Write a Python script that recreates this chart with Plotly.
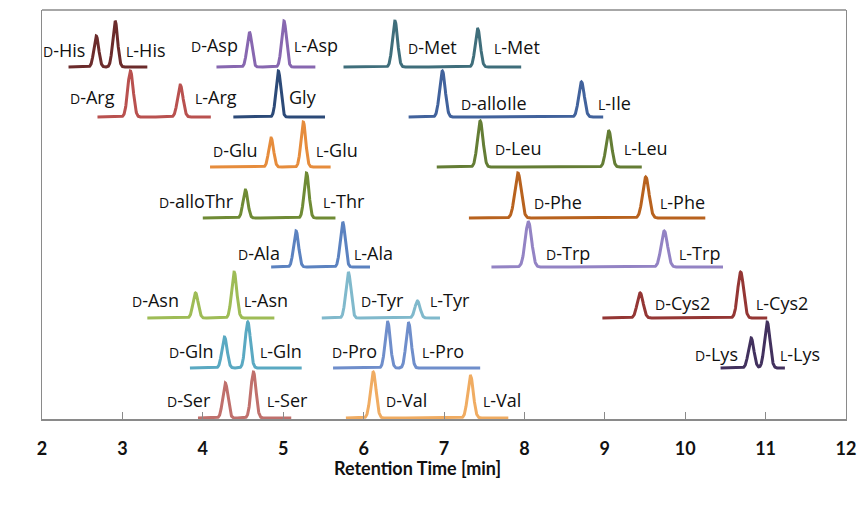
import numpy as np
import plotly.graph_objects as go

# ---- data -------------------------------------------------------------
names = ["His", "Asp", "Met", "Arg", "Gly", "alloIle/Ile", "Glu", "Leu", "Thr", "Phe",
         "Ala", "Trp", "Asn", "Tyr", "Cys2", "Gln", "Pro", "Lys", "Ser", "Val"]
offsets = [352, 352, 352, 302, 302, 302, 252, 252, 201, 201,
           152, 152, 101, 101, 101, 51, 51, 51, 1, 1]
rt_first = [2.675, 4.58, 6.39, 3.10, 4.94, 6.98, 4.85, 7.45, 4.53, 7.92,
            5.16, 8.05, 3.91, 5.81, 9.44, 4.27, 6.30, 10.82, 4.28, 6.12]
rt_second = [2.91, 5.01, 7.42, 3.72, None, 8.71, 5.25, 9.05, 5.29, 9.51,
             5.74, 9.74, 4.39, 6.67, 10.69, 4.56, 6.56, 11.02, 4.63, 7.33]
h_first = [31, 35, 46, 46, 46, 46, 29, 46, 28, 45,
           36, 45, 25, 46, 25, 31, 46, 30, 35, 46]
h_second = [46, 46, 38, 32, None, 35, 45, 36, 45, 41,
            45, 36, 46, 17, 46, 46, 45, 46, 46, 42]
run_start = [2.33, 4.17, 5.75, 2.69, 4.38, 6.56, 4.09, 6.91, 4.00, 7.31,
             4.85, 7.59, 3.31, 5.48, 8.97, 3.84, 5.62, 10.44, 3.94, 5.78]
run_end = [3.31, 5.40, 7.96, 4.10, 5.52, 8.98, 5.59, 9.46, 5.65, 10.25,
           6.08, 10.47, 4.89, 6.95, 11.02, 5.23, 7.45, 11.24, 5.10, 7.80]
peak_sigma = [0.030, 0.030, 0.032, 0.034, 0.030, 0.035, 0.030, 0.035, 0.030, 0.040,
              0.031, 0.040, 0.032, 0.032, 0.037, 0.032, 0.032, 0.034, 0.032, 0.035]

label_prefix = ["D", "L", "D", "L", "D", "L", "D", "L", "", "D", "L",
                "D", "L", "D", "L", "D", "L", "D", "L", "D", "L", "D", "L",
                "D", "L", "D", "L", "D", "L", "D", "L", "D", "L", "D", "L",
                "D", "L", "D", "L"]
label_text = ["His", "His", "Asp", "Asp", "Met", "Met", "Arg", "Arg", "Gly", "alloIle", "Ile",
              "Glu", "Glu", "Leu", "Leu", "alloThr", "Thr", "Phe", "Phe", "Ala", "Ala",
              "Trp", "Trp", "Asn", "Asn", "Tyr", "Tyr", "Cys2", "Cys2", "Gln", "Gln",
              "Pro", "Pro", "Lys", "Lys", "Ser", "Ser", "Val", "Val"]

# label placement (layout, not data)
label_x = [2.568, 3.012, 4.481, 5.099, 6.519, 7.58, 2.951, 3.864, 5.037, 7.173, 8.877,
           4.728, 5.37, 7.593, 9.198, 4.42, 5.457, 8.086, 9.654, 5.0, 5.84,
           8.235, 9.889, 3.741, 4.481, 5.926, 6.79, 9.593, 10.84, 4.173, 4.679,
           6.21, 6.691, 10.691, 11.136, 4.136, 4.765, 6.247, 7.444]
label_y = [369, 369, 374, 374, 372, 372, 322, 322, 322, 316, 316,
           269, 269, 271, 271, 218, 218, 217, 217, 166, 166,
           166, 166, 119, 119, 119, 119, 116, 116, 68, 68,
           68, 68, 65, 65, 19, 19, 19, 19]
label_anchor = ["right", "left", "right", "left", "left", "left", "right", "left", "left", "left", "left",
                "right", "left", "left", "left", "right", "left", "left", "left", "right", "left",
                "left", "left", "right", "left", "left", "left", "left", "left", "right", "left",
                "right", "left", "right", "left", "right", "left", "left", "left"]

colors = ["#6b2b2b", "#8767b0", "#3f6e7b", "#b9514f", "#2c4a78", "#41629c", "#e68c3c",
          "#647d35", "#6f8b35", "#b8621e", "#5b82c0", "#9383c4", "#9ebc56", "#80b9cc",
          "#943634", "#5aa9c2", "#6f8ecb", "#42315e", "#c0706c", "#f0ac62"]

x_ticks = [2, 3, 4, 5, 6, 7, 8, 9, 10, 11, 12]

# ---- figure -----------------------------------------------------------
fig = go.Figure()
for i, name in enumerate(names):
    t = np.linspace(run_start[i], run_end[i], 600)
    y = np.full_like(t, float(offsets[i]))
    for rt, h in ((rt_first[i], h_first[i]), (rt_second[i], h_second[i])):
        if rt is not None:
            y = y + h * np.exp(-0.5 * ((t - rt) / peak_sigma[i]) ** 2)
    fig.add_trace(go.Scatter(x=t, y=y, mode="lines", name=name,
                             line=dict(color=colors[i], width=3), hoverinfo="skip"))

for p, txt, x, y, a in zip(label_prefix, label_text, label_x, label_y, label_anchor):
    if p:
        s = f"<span style='font-size:14px'>{p}</span>-{txt}"
    else:
        s = txt
    fig.add_annotation(x=x, y=y, text=s, showarrow=False, xanchor=a, yanchor="middle",
                       xshift=-1 if a == "right" else 1,
                       font=dict(family="Open Sans", size=18, color="#111111"))

fig.add_annotation(x=6.67, y=-0.12, xref="x", yref="paper", text="Retention Time [min]",
                   showarrow=False, xanchor="center", yanchor="middle",
                   font=dict(family="Lato", size=18, color="#111111", weight="bold"))

# top frame line
fig.add_shape(type="line", xref="paper", yref="paper", x0=0, x1=1, y0=1, y1=1,
              line=dict(color="#8a8a8a", width=1.3))

fig.update_layout(
    width=866, height=506,
    margin=dict(l=42, r=13, t=10, b=87),
    paper_bgcolor="white", plot_bgcolor="white",
    showlegend=False,
    xaxis=dict(range=[2, 12], tickvals=x_ticks, ticktext=[str(v) for v in x_ticks],
               showgrid=False, zeroline=False, showline=True, linecolor="#8a8a8a", linewidth=2,
               ticks="inside", ticklen=7, tickcolor="#8a8a8a", tickwidth=1,
               ticklabelstandoff=12,
               tickfont=dict(family="Lato", size=18, color="#111111", weight="bold")),
    yaxis=dict(range=[0, 409], showgrid=False, zeroline=False, showticklabels=False,
               showline=True, linecolor="#8a8a8a", linewidth=1.3, mirror=True, ticks=""),
)

fig.write_html("out.html", config={"displayModeBar": False},
               post_script="document.body.style.margin='0';")
